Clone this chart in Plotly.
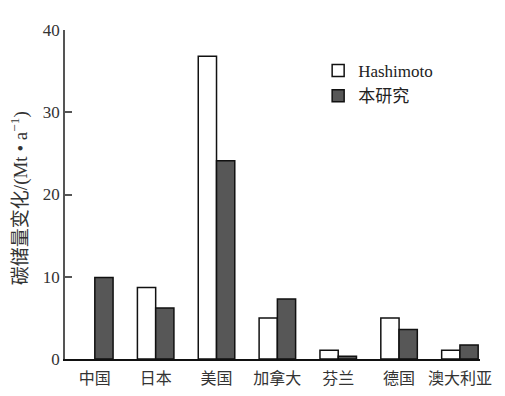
import plotly.graph_objects as go

countries = ["中国", "日本", "美国", "加拿大", "芬兰", "德国", "澳大利亚"]
hashimoto = [None, 8.7, 36.8, 5.0, 1.05, 5.0, 1.05]
this_study = [9.9, 6.2, 24.1, 7.3, 0.33, 3.6, 1.7]
y_ticks = [0, 10, 20, 30, 40]

serif = "Liberation Serif, Times New Roman, serif"
cjk = "Noto Sans CJK SC"
mixed = "Liberation Serif, Noto Sans CJK SC, serif"

fig = go.Figure()
fig.add_trace(go.Bar(
    x=countries, y=hashimoto, name="Hashimoto",
    marker=dict(color="white", line=dict(color="#111111", width=1.5)),
))
fig.add_trace(go.Bar(
    x=countries, y=this_study, name="本研究",
    marker=dict(color="#575757", line=dict(color="#111111", width=1.5)),
))

fig.add_annotation(
    text="碳储量变化/(Mt • a<sup>−1</sup>)",
    xref="paper", yref="paper", x=-0.11, y=0.49,
    xanchor="center", yanchor="middle", textangle=-90, showarrow=False,
    font=dict(family=mixed, size=19, color="#333333"),
)

fig.update_layout(
    width=505, height=396,
    margin=dict(l=65, r=25, t=30, b=37, autoexpand=False),
    plot_bgcolor="white", paper_bgcolor="white",
    barmode="group", bargap=0.4, bargroupgap=0,
    font=dict(family=serif, size=15, color="#222222"),
    showlegend=True,
    legend=dict(
        x=0.61, y=0.93, xanchor="left", yanchor="top",
        bgcolor="rgba(0,0,0,0)",
        font=dict(family=mixed, size=17, color="#222222"),
        itemwidth=30, tracegroupgap=0,
    ),
    xaxis=dict(
        range=[-0.49, 6.33],
        showline=True, linecolor="#111111", linewidth=1.5,
        ticks="", showgrid=False, zeroline=False, automargin=False,
        ticklabelstandoff=4,
        tickfont=dict(family=cjk, size=16, color="#333333"),
    ),
    yaxis=dict(
        range=[0, 40], tickvals=y_ticks,
        showline=True, linecolor="#555555", linewidth=1.5,
        ticks="inside", ticklen=7, tickcolor="#555555", tickwidth=1.5,
        showgrid=False, zeroline=False, automargin=False,
        tickfont=dict(family=serif, size=17, color="#333333"),
    ),
)

fig.write_html("out.html", config={"displayModeBar": False},
               post_script="document.body.style.margin='0';")
